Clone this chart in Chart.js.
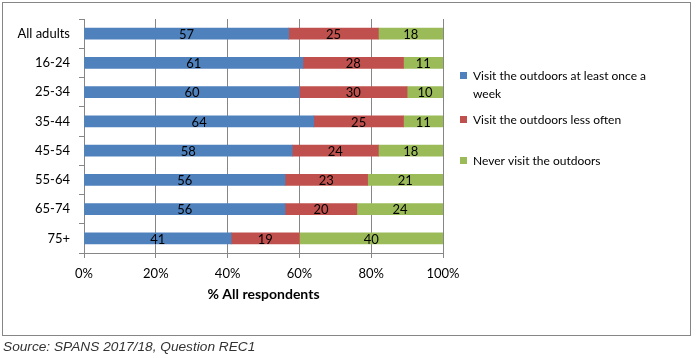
<!DOCTYPE html>
<html>
<head>
<meta charset="utf-8">
<script src="https://cdn.jsdelivr.net/npm/chart.js@4"></script>
<style>
  html, body { margin: 0; padding: 0; background: #fff; }
  canvas { display: block; }
</style>
</head>
<body>
<canvas id="c" width="697" height="358"></canvas>
<script>
const categories = ['All adults', '16-24', '25-34', '35-44', '45-54', '55-64', '65-74', '75+'];
const weekly = [57, 61, 60, 64, 58, 56, 56, 41];
const lessOften = [25, 28, 30, 25, 24, 23, 20, 19];
const never = [18, 11, 10, 11, 18, 21, 24, 40];
const seriesNames = ['Visit the outdoors at least once a week', 'Visit the outdoors less often', 'Never visit the outdoors'];
const legendLines = [['Visit the outdoors at least once a', 'week'], ['Visit the outdoors less often'], ['Never visit the outdoors']];
const xTicks = [0, 20, 40, 60, 80, 100];
const xTitle = '% All respondents';
const sourceText = 'Source: SPANS 2017/18, Question REC1';

const colors = ['#4F81BD', '#C0504D', '#9BBB59'];
const FONT = 'Lato, "Open Sans", sans-serif';

const valueLabels = {
  id: 'valueLabels',
  afterDatasetsDraw(chart) {
    const ctx = chart.ctx;
    ctx.save();
    ctx.font = '13px ' + FONT;
    ctx.fillStyle = '#000';
    ctx.textAlign = 'center';
    ctx.textBaseline = 'middle';
    chart.data.datasets.forEach((ds, i) => {
      const meta = chart.getDatasetMeta(i);
      meta.data.forEach((el, j) => {
        const p = el.getCenterPoint();
        ctx.fillText(String(ds.data[j]), p.x, p.y + 1);
      });
    });
    ctx.restore();
  }
};

const frame = {
  id: 'frame',
  afterDraw(chart) {
    const ctx = chart.ctx;
    ctx.save();
    ctx.strokeStyle = '#868686';
    ctx.lineWidth = 1;
    ctx.strokeRect(2.5, 2.5, 688, 333);
    // legend
    ctx.font = '12px ' + FONT;
    ctx.textAlign = 'left';
    ctx.textBaseline = 'middle';
    const itemY = [76, 120, 161];
    legendLines.forEach((lines, i) => {
      ctx.fillStyle = chart.data.datasets[i].backgroundColor;
      ctx.fillRect(460, itemY[i] - 4, 7, 7);
      ctx.fillStyle = '#000';
      lines.forEach((t, k) => ctx.fillText(t, 473, itemY[i] + k * 18));
    });
    // source
    ctx.font = 'italic 13.7px "Liberation Sans", Arial, sans-serif';
    ctx.fillStyle = '#333';
    ctx.textBaseline = 'alphabetic';
    ctx.fillText(sourceText, 3, 351);
    ctx.restore();
  }
};

const data = {
  labels: categories,
  datasets: [
    { label: seriesNames[0], data: weekly, backgroundColor: colors[0] },
    { label: seriesNames[1], data: lessOften, backgroundColor: colors[1] },
    { label: seriesNames[2], data: never, backgroundColor: colors[2] }
  ]
};

new Chart(document.getElementById('c'), {
  type: 'bar',
  data,
  plugins: [valueLabels, frame],
  options: {
    indexAxis: 'y',
    responsive: false,
    animation: false,
    events: [],
    layout: { padding: { left: 0, top: 19, right: 254, bottom: 55 } },
    datasets: { bar: { barThickness: 11 } },
    plugins: { legend: { display: false }, tooltip: { enabled: false } },
    scales: {
      x: {
        stacked: true,
        min: 0, max: 100,
        afterBuildTicks(scale) { scale.ticks = xTicks.map(v => ({ value: v })); },
        afterFit(scale) { scale.height = 50; },
        grid: { color: '#868686', tickLength: 5, drawTicks: true },
        border: { color: '#868686' },
        ticks: { padding: 8, color: '#000', font: { family: FONT, size: 13 }, callback: v => v + '%' },
        title: { display: true, text: xTitle, color: '#000', padding: 0, font: { family: FONT, size: 14, weight: 'bold' } }
      },
      y: {
        stacked: true,
        afterFit(scale) { scale.width = 84; },
        grid: { drawOnChartArea: false, offset: true, tickLength: 5, color: '#868686' },
        border: { color: '#868686' },
        ticks: { padding: 9, color: '#000', font: { family: FONT, size: 13 } }
      }
    }
  }
});
</script>
</body>
</html>
